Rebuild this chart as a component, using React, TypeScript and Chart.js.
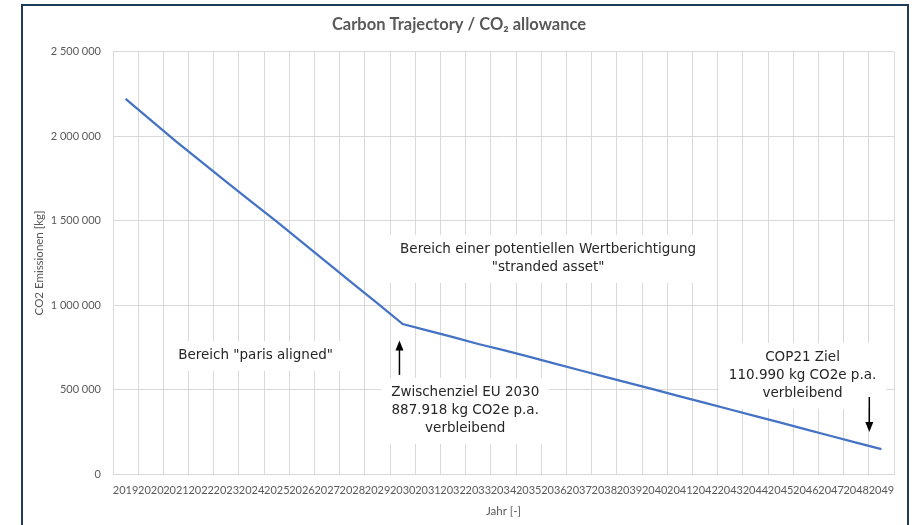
import React, { useEffect, useRef } from 'react';
import { Chart, registerables } from 'chart.js';

Chart.register(...registerables);

const years = [
  '2019', '2020', '2021', '2022', '2023', '2024', '2025', '2026', '2027', '2028',
  '2029', '2030', '2031', '2032', '2033', '2034', '2035', '2036', '2037', '2038',
  '2039', '2040', '2041', '2042', '2043', '2044', '2045', '2046', '2047', '2048', '2049',
];

const emissions = [
  2221000, 2095000, 1970000, 1850000, 1730000, 1612000, 1495000, 1373000, 1252000, 1130000,
  1010000, 887918, 849000, 810000, 770000, 733000, 695000, 655000, 616000, 577000,
  538000, 500000, 460000, 421000, 382000, 343000, 304000, 264000, 225000, 186000, 147000,
];

const yMin = 0;
const yMax = 2500000;
const yStep = 500000;

// annotation texts, anchored in data space (category index, value)
const noteTexts = [
  ['Bereich einer potentiellen Wertberichtigung', '"stranded asset"'],
  ['Bereich "paris aligned"'],
  ['Zwischenziel EU 2030', '887.918 kg CO2e p.a.', 'verbleibend'],
  ['COP21 Ziel', '110.990 kg CO2e p.a.', 'verbleibend'],
];
const noteX = [16.77, 5.16, 13.48, 26.87];
const noteY = [1273700, 699000, 373200, 580600];

// arrows: category index, start value, tip value
const arrowX = [10.87, 29.52];
const arrowFrom = [586500, 456000];
const arrowTo = [790000, 249000];

const fmt = (v: number) => String(v).replace(/\B(?=(\d{3})+(?!\d))/g, ' ');

const notesPlugin = {
  id: 'notes',
  beforeDatasetsDraw(chart: any) {
    const { ctx, scales } = chart;
    const x = scales.x;
    const y = scales.y;
    ctx.save();
    ctx.font = '13.5px "DejaVu Sans"';
    const lh = 18;
    noteTexts.forEach((lines, i) => {
      const cx = x.getPixelForValue(noteX[i]);
      const cy = y.getPixelForValue(noteY[i]);
      const w = Math.max(...lines.map((l) => ctx.measureText(l).width)) + 20;
      const h = lines.length * lh + 12;
      ctx.fillStyle = '#ffffff';
      ctx.fillRect(cx - w / 2, cy - h / 2, w, h);
      ctx.fillStyle = '#262626';
      ctx.textAlign = 'center';
      ctx.textBaseline = 'middle';
      lines.forEach((l, j) => {
        ctx.fillText(l, cx, cy + (j - (lines.length - 1) / 2) * lh);
      });
    });
    arrowX.forEach((ax, i) => {
      const px = x.getPixelForValue(ax);
      const y0 = y.getPixelForValue(arrowFrom[i]);
      const y1 = y.getPixelForValue(arrowTo[i]);
      const dir = y1 < y0 ? -1 : 1;
      ctx.strokeStyle = '#000000';
      ctx.lineWidth = 1.5;
      ctx.beginPath();
      ctx.moveTo(px, y0);
      ctx.lineTo(px, y1 - dir * 8);
      ctx.stroke();
      ctx.fillStyle = '#000000';
      ctx.beginPath();
      ctx.moveTo(px, y1);
      ctx.lineTo(px - 4, y1 - dir * 10);
      ctx.lineTo(px + 4, y1 - dir * 10);
      ctx.closePath();
      ctx.fill();
    });
    ctx.restore();
  },
};

export default function App() {
  const ref = useRef<HTMLCanvasElement | null>(null);

  useEffect(() => {
    if (!ref.current) return;
    const tickFont = { family: 'Lato', size: 11 };
    const titleFont = { family: 'Lato', size: 11.5, lineHeight: 1.2 };
    const chart = new Chart(ref.current, {
      type: 'line',
      data: {
        labels: years,
        datasets: [
          {
            data: emissions,
            borderColor: '#4472C4',
            borderWidth: 2.25,
            pointRadius: 0,
            tension: 0,
            fill: false,
          },
        ],
      },
      options: {
        animation: false,
        responsive: false,
        layout: { padding: { left: 24, right: 21, top: 0, bottom: 0 } },
        plugins: {
          legend: { display: false },
          tooltip: { enabled: false },
          title: {
            display: true,
            text: 'Carbon Trajectory / CO\u2082 allowance',
            color: '#595959',
            font: { family: 'Lato', size: 16.5, weight: 'bold', lineHeight: 1.2 },
            padding: { top: 15, bottom: 17 },
          },
        },
        scales: {
          x: {
            offset: true,
            grid: { offset: true, color: '#d9d9d9', drawTicks: false },
            border: { color: '#d9d9d9' },
            ticks: {
              autoSkip: false,
              maxRotation: 0,
              minRotation: 0,
              color: '#595959',
              font: tickFont,
              padding: 10,
            },
            title: {
              display: true,
              text: 'Jahr [-]',
              color: '#595959',
              font: titleFont,
              padding: { top: 0, bottom: 7 },
            },
            afterFit: (s: any) => {
              s.height = 51;
            },
          },
          y: {
            min: yMin,
            max: yMax,
            grid: { color: '#d9d9d9', drawTicks: false },
            border: { display: false },
            ticks: {
              stepSize: yStep,
              color: '#595959',
              font: tickFont,
              padding: 12,
              callback: (v: any) => fmt(Number(v)),
            },
            title: {
              display: true,
              text: 'CO2 Emissionen [kg]',
              color: '#595959',
              font: titleFont,
              padding: { top: 8, bottom: 0 },
            },
            afterFit: (s: any) => {
              s.width = 89;
            },
          },
        },
      },
      plugins: [notesPlugin],
    } as any);
    return () => chart.destroy();
  }, []);

  return (
    <div style={{ position: 'fixed', left: 0, top: 0, width: 915, height: 525, background: '#ffffff', overflow: 'hidden' }}>
      <div
        style={{
          position: 'absolute',
          left: 21,
          top: 4,
          width: 884,
          height: 600,
          border: '2px solid #1f3b5a',
        }}
      />
      <canvas ref={ref} width={915} height={525} style={{ position: 'absolute', left: 0, top: 0 }} />
    </div>
  );
}
